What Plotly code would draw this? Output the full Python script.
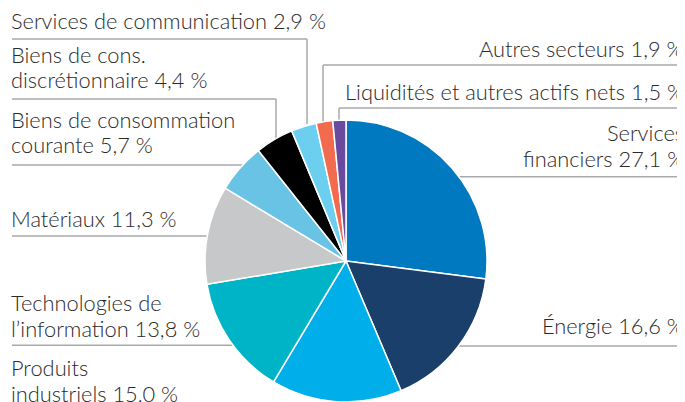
import plotly.graph_objects as go

# The page body has an 8px margin, so the figure is drawn 8px in from the
# top-left of the window; all screen positions below are converted.
SCREEN_W, SCREEN_H = 685, 402
OFF = 8
W, H = SCREEN_W - OFF, SCREEN_H - OFF

sectors = [
    "Services financiers",
    "Énergie",
    "Produits industriels",
    "Technologies de l’information",
    "Matériaux",
    "Biens de consommation courante",
    "Biens de cons. discrétionnaire",
    "Services de communication",
    "Autres secteurs",
    "Liquidités et autres actifs nets",
]
weights = [27.1, 16.6, 15.0, 13.8, 11.3, 5.7, 4.4, 2.9, 1.9, 1.5]
slice_colors = ["#0079c1", "#1a3f6a", "#00aeea", "#00b4c8", "#c7c8ca",
                "#68c3e5", "#000000", "#6dcff0", "#f26b4f", "#6a4a9e"]

# Display text (line breaks as in the reference)
label_lines = [
    ["Services", "financiers"],
    ["Énergie"],
    ["Produits", "industriels"],
    ["Technologies de", "l’information"],
    ["Matériaux"],
    ["Biens de consommation", "courante"],
    ["Biens de cons.", "discrétionnaire"],
    ["Services de communication"],
    ["Autres secteurs"],
    ["Liquidités et autres actifs nets"],
]


def fmt(v):
    return f"{v:.1f}".replace(".", ",") + " %"


def px(x):
    return (x - OFF) / W


def py(y):
    return 1 - (y - OFF) / H


# pie geometry (screen pixels)
CX, CY, R = 346, 261, 141

fig = go.Figure(go.Pie(
    labels=sectors,
    values=weights,
    sort=False,
    direction="clockwise",
    rotation=0,
    marker=dict(colors=slice_colors, line=dict(color="white", width=1.5)),
    textinfo="none",
    hoverinfo="label+percent",
    domain=dict(x=[px(CX - R), px(CX + R)], y=[py(CY + R), py(CY - R)]),
    showlegend=False,
))

# label placement: (side, x, baseline of last line in screen px)
LEFT_X, RIGHT_X = 10, 685
placements = [
    ("right", RIGHT_X, 166.7),
    ("right", RIGHT_X, 334),
    ("left", LEFT_X, 401.7),
    ("left", LEFT_X, 336.7),
    ("left", LEFT_X, 227),
    ("left", LEFT_X, 153.3),
    ("left", LEFT_X, 88.3),
    ("left", LEFT_X, 29),
    ("right", RIGHT_X, 57),
    ("right", RIGHT_X, 100),
]

FONT_SIZE = 21.8
LINE_GAP = 25.7
BASE_OFF = 6  # px between baseline and annotation box bottom
annotations = []
for lines, v, (side, x, base) in zip(label_lines, weights, placements):
    texts = lines[:-1] + [lines[-1] + " " + fmt(v)]
    n = len(texts)
    for i, t in enumerate(texts):
        b = base - (n - 1 - i) * LINE_GAP
        annotations.append(dict(
            text=t, x=px(x), y=py(b + BASE_OFF), xref="paper", yref="paper",
            xanchor=side, yanchor="bottom", align=side, showarrow=False,
            font=dict(family="Lato", size=FONT_SIZE, color="#2a2a2a",
                      weight=300),
            borderpad=0,
        ))

# leader lines (polylines in screen px)
leaders = [
    [(12, 39), (307, 39), (307, 124)],
    [(12, 99), (276, 99), (276, 142)],
    [(12, 165), (250, 165)],
    [(12, 236), (215, 236)],
    [(12, 345.3), (240, 345.3)],
    [(682, 65), (323, 65), (323, 122)],
    [(682, 108), (339, 108), (339, 122)],
    [(682, 176.7), (450, 176.7)],
    [(682, 346), (450, 346)],
]
shapes = []
for pts in leaders:
    for (x0, y0), (x1, y1) in zip(pts[:-1], pts[1:]):
        shapes.append(dict(
            type="line", xref="paper", yref="paper",
            x0=px(x0), y0=py(y0), x1=px(x1), y1=py(y1),
            line=dict(color="#a7a9ac", width=1.5), layer="below",
        ))

fig.update_layout(
    width=W, height=H,
    margin=dict(l=0, r=0, t=0, b=0),
    paper_bgcolor="white", plot_bgcolor="white",
    annotations=annotations,
    shapes=shapes,
)

fig.write_html("out.html")
